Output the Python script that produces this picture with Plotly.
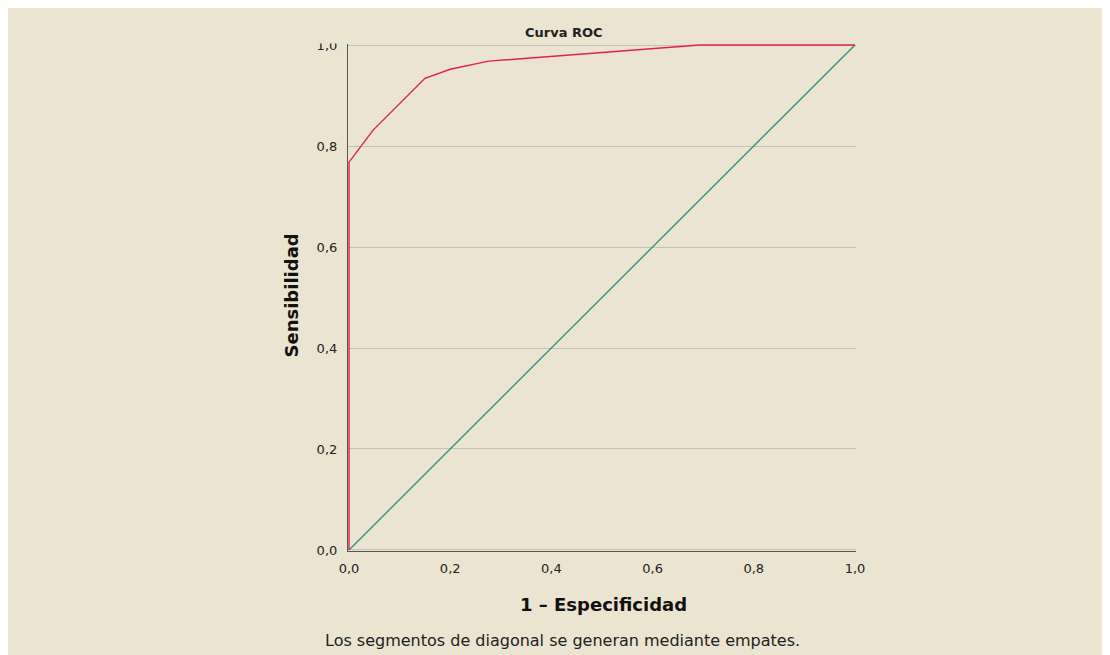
import plotly.graph_objects as go

# ROC curve data
fpr = [0.0, 0.0, 0.048, 0.150, 0.200, 0.276, 0.693, 1.0]
tpr = [0.0, 0.768, 0.832, 0.934, 0.952, 0.968, 1.0, 1.0]
diag_x = [0.0, 1.0]
diag_y = [0.0, 1.0]
tick_vals = [0.0, 0.2, 0.4, 0.6, 0.8, 1.0]

BEIGE = "#EBE4D0"
RED = "#E2214B"
TEAL = "#3B8F88"
FONT = "DejaVu Sans"

OFF = 8  # page body margin
W, H = 1110, 655
# plot area in page pixels
PL, PR, PT, PB = 348, 856, 44, 551
L, R, T, B = PL - OFF, PR - OFF, PT - OFF, PB - OFF
pw, ph = R - L, B - T

def px(x):  # page pixel x -> paper
    return (x - OFF - L) / pw

def py(y):  # page pixel y -> paper
    return (B - (y - OFF)) / ph

fig = go.Figure()
fig.add_trace(go.Scatter(x=diag_x, y=diag_y, mode="lines",
                         line=dict(color=TEAL, width=1.4), hoverinfo="skip"))
fig.add_trace(go.Scatter(x=fpr, y=tpr, mode="lines",
                         line=dict(color=RED, width=1.4), hoverinfo="skip"))

fig.update_layout(
    width=W, height=H,
    margin=dict(l=L, r=W - R, t=T, b=H - B, pad=0),
    paper_bgcolor=BEIGE,
    plot_bgcolor=BEIGE,
    showlegend=False,
    separators=",.",
    font=dict(family=FONT, color="#222222"),
    shapes=[
        dict(type="rect", xref="paper", yref="paper", layer="above",
             x0=px(310), x1=px(346), y0=py(43.5), y1=py(30),
             fillcolor=BEIGE, line=dict(width=0)),
    ],
    annotations=[
        dict(text="<b>Curva ROC</b>", x=px(563.5), y=py(33), xref="paper", yref="paper",
             xanchor="center", yanchor="middle", showarrow=False,
             font=dict(size=13, family=FONT, color="#222222")),
        dict(text="<b>Sensibilidad</b>", x=px(290.5), y=py(296), xref="paper", yref="paper",
             xanchor="center", yanchor="middle", showarrow=False, textangle=-90,
             font=dict(size=18, family=FONT, color="#111111")),
        dict(text="<b>1 – Especificidad</b>", x=px(603.5), y=py(604), xref="paper", yref="paper",
             xanchor="center", yanchor="middle", showarrow=False,
             font=dict(size=18, family=FONT, color="#111111")),
        dict(text="Los segmentos de diagonal se generan mediante empates.",
             x=px(562.5), y=py(640), xref="paper", yref="paper",
             xanchor="center", yanchor="middle", showarrow=False,
             font=dict(size=16, family=FONT, color="#222222")),
    ],
)

fig.update_xaxes(
    range=[-0.002, 1.002], tickvals=tick_vals, tickformat=".1f",
    showgrid=False, zeroline=False, showline=True, linecolor="#555555", linewidth=1.2,
    ticks="", ticklabelstandoff=5, tickfont=dict(size=13, family=FONT, color="#222222"),
    fixedrange=True,
)
fig.update_yaxes(
    range=[-0.002, 1.002], tickvals=tick_vals, tickformat=".1f",
    showgrid=True, gridcolor="#C2C0B8", gridwidth=1.2,
    zeroline=False, showline=True, linecolor="#555555", linewidth=1.2,
    ticks="", ticklabelstandoff=7, tickfont=dict(size=13, family=FONT, color="#222222"),
    fixedrange=True,
)

fig.write_html(
    "out.html",
    post_script="document.documentElement.style.overflow='hidden';document.body.style.overflow='hidden';",
)
